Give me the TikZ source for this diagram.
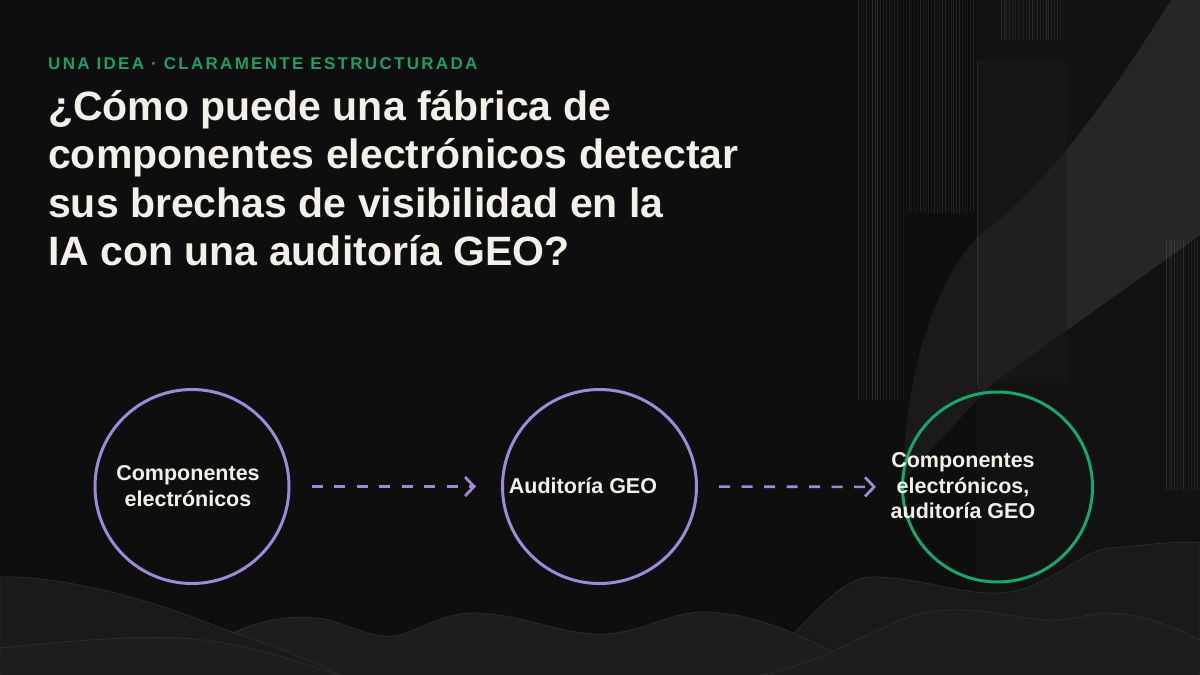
\documentclass[tikz,border=0pt]{standalone}
\usepackage{fontspec}
\setmainfont{Liberation Sans}
\newfontfamily\spacedfont[LetterSpace=13.5]{Liberation Sans}
\usetikzlibrary{arrows.meta}
\definecolor{bg}{HTML}{0F0E0E}
\definecolor{lav}{HTML}{9E8AD8}
\definecolor{grn}{HTML}{16A86A}
\definecolor{subgrn}{HTML}{1E9E64}
\definecolor{cream}{HTML}{F3F0EA}
\definecolor{panelA}{HTML}{121212}
\definecolor{panelB}{HTML}{161616}
\definecolor{bandA}{HTML}{1A1A1A}
\definecolor{bandB}{HTML}{1F1F1F}
\definecolor{bandC}{HTML}{262626}
\definecolor{hill}{HTML}{1A1A1A}
\definecolor{hillB}{HTML}{1D1D1D}
\definecolor{hillline}{HTML}{2B2B2B}
\tikzset{
  ring/.style={circle, draw=lav, line width=3pt, minimum size=194pt, inner sep=0pt},
  ringgreen/.style={ring, draw=grn, minimum size=190pt},
  label/.style={text=cream, font=\fontsize{21.5}{25.5}\selectfont\bfseries, align=center, inner sep=0pt},
  flow/.style={draw=lav, line width=2.6pt, dash pattern=on 11pt off 11.5pt,
    -{Straight Barb[length=9pt,width=19pt,line width=2.8pt]}, shorten <=21pt, shorten >=25pt},
  hillshape/.style={fill=hill, draw=hillline, line width=0.8pt},
  stripe/.style={draw=white, line width=0.6pt}
}
\begin{document}
\begin{tikzpicture}[x=1pt,y=-1pt]
\useasboundingbox (0,0) rectangle (1200,675);
\fill[bg] (0,0) rectangle (1200,675);
% right-hand decorative panels
\fill[panelA] (977,0) rectangle (1200,675);
\fill[panelB] (977,61) rectangle (1067,383);
\fill[bandA] (1171,0) .. controls (1090,130) and (1030,200) .. (977,237)
  .. controls (930,290) and (905,380) .. (903,480) -- (993,383) -- (1200,235) -- (1200,0) -- cycle;
\begin{scope}
  \clip (1171,0) .. controls (1090,130) and (1030,200) .. (977,237)
  .. controls (930,290) and (905,380) .. (903,480) -- (993,383) -- (1200,235) -- (1200,0) -- cycle;
  \fill[bandB] (977,0) rectangle (1067,675);
  \fill[bandC] (1067,0) rectangle (1200,675);
\end{scope}
\pgfmathsetseed{7}
\foreach \i in {0,...,16} {
  \pgfmathsetmacro\op{0.03+0.10*rnd}
  \draw[stripe, opacity=\op] ({858+\i*2.8},0) -- ++(0,400);
}
\foreach \i in {0,...,24} {
  \pgfmathsetmacro\op{0.03+0.08*rnd}
  \draw[stripe, opacity=\op] ({906+\i*2.8},0) -- ++(0,213);
}
\foreach \i in {0,...,22} {
  \pgfmathsetmacro\op{0.03+0.08*rnd}
  \draw[stripe, opacity=\op] ({1001+\i*2.8},0) -- ++(0,40);
}
\foreach \i in {0,...,11} {
  \pgfmathsetmacro\op{0.03+0.08*rnd}
  \draw[stripe, opacity=\op] ({1166+\i*2.8},240) -- ++(0,250);
}
\draw[white, opacity=0.08, line width=0.8pt] (977,61) -- (977,383);
% bottom hills (back to front)
\fill[hillshape] (750,675) .. controls (800,635) and (835,577) .. (872,577)
  .. controls (920,577) and (960,595) .. (1000,593) .. controls (1050,590) and (1080,550) .. (1110,548)
  .. controls (1150,545) and (1180,540) .. (1200,543) -- (1200,675) -- cycle;
\fill[hillshape, fill=hillB] (220,675) -- (220,640) .. controls (250,622) and (290,612) .. (330,620)
  .. controls (360,630) and (380,640) .. (400,635) .. controls (430,625) and (445,613) .. (474,613)
  .. controls (520,613) and (560,635) .. (604,634) .. controls (640,633) and (670,612) .. (704,612)
  .. controls (750,612) and (810,635) .. (870,675) -- cycle;
\fill[hillshape] (0,577) .. controls (60,575) and (150,600) .. (200,620)
  .. controls (240,636) and (290,650) .. (340,675) -- (0,675) -- cycle;
\fill[hillshape, fill=hillB] (0,648) .. controls (60,642) and (120,636) .. (176,638)
  .. controls (240,640) and (290,660) .. (340,675) -- (0,675) -- cycle;
\fill[hillshape, fill=hillB] (760,675) .. controls (840,660) and (890,612) .. (945,610)
  .. controls (990,608) and (1020,620) .. (1050,620) .. controls (1080,620) and (1090,612) .. (1110,613)
  .. controls (1150,615) and (1180,630) .. (1200,640) -- (1200,675) -- cycle;
% texts
\node[anchor=base west, inner sep=0pt, text=subgrn, font=\fontsize{17}{20}\spacedfont\bfseries] (kicker) at (48,69)
  {UNA IDEA · CLARAMENTE ESTRUCTURADA};
\node[anchor=base west, inner sep=0pt, text=cream, align=left, font=\fontsize{41}{48.5}\selectfont\bfseries] (title) at (48,265.5)
  {¿Cómo puede una fábrica de\\componentes electrónicos detectar\\sus brechas de visibilidad en la\\IA con una auditoría GEO?};
% circles
\node[ring] (c1) at (192,486.5) {};
\node[ring] (c2) at (599.5,486.5) {};
\node[ringgreen] (c3) at (997.5,487) {};
\node[label] (t1) at (188,486) {Componentes\\electrónicos};
\node[label] (t2) at (583,486) {Auditoría GEO};
\node[label] (t3) at (963,486) {Componentes\\electrónicos,\\auditoría GEO};
\draw[flow] (c1) -- (c2);
\draw[flow] (c2) -- (c3);
\end{tikzpicture}
\end{document}
